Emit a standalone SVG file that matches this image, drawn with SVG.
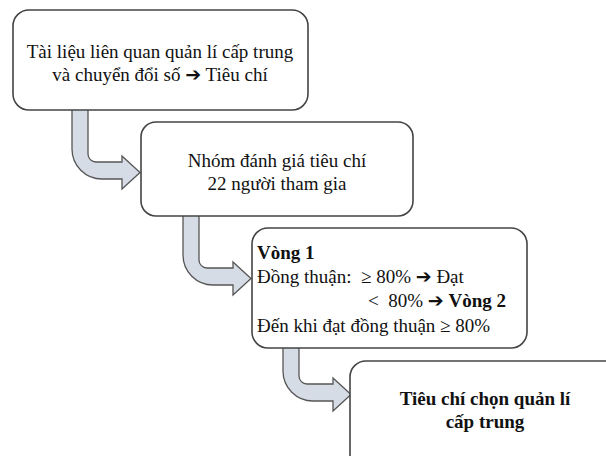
<svg xmlns="http://www.w3.org/2000/svg" width="606" height="456" viewBox="0 0 606 456">
<defs>
<style>
.box{fill:#fff;stroke:#444;stroke-width:1.6}
.arr{fill:#d6dce6;stroke:#555;stroke-width:1.3;stroke-linejoin:miter}
.t{font-family:'Liberation Serif','Times New Roman',serif;font-size:19px;fill:#111}
.c{text-anchor:middle}
.b{font-weight:bold}
.ar{font-family:'DejaVu Sans',sans-serif;font-size:19px;font-weight:bold}
</style>
<path id="bent" d="M0,0 V40 A30,30 0 0 0 30,70 H50 V80 L68,63.5 L50,47 V53 H24 A8,8 0 0 1 16,45 V0 Z"/>
<path id="bent2" d="M0,0 V24 A30,30 0 0 0 30,54 H50 V64 L68,47.5 L50,31 V37 H24 A8,8 0 0 1 16,29 V0 Z"/>
</defs>
<rect width="606" height="456" fill="#fff"/>
<g id="connectors">
<use href="#bent" class="arr" transform="translate(72,109)"/>
<use href="#bent" class="arr" transform="translate(183,215)"/>
<use href="#bent2" class="arr" transform="translate(283,347)"/>
</g>
<g id="node1" class="t">
<rect class="box" x="13" y="10" width="295" height="100" rx="16"/>
<text class="c" x="160" y="58">Tài liệu liên quan quản lí cấp trung</text>
<text class="c" x="160" y="81">và chuyển đổi số <tspan class="ar">➔</tspan> Tiêu chí</text>
</g>
<g id="node2" class="t">
<rect class="box" x="141" y="122" width="272" height="94" rx="15"/>
<text class="c" x="277" y="167">Nhóm đánh giá tiêu chí</text>
<text class="c" x="277" y="190">22 người tham gia</text>
</g>
<g id="node3" class="t">
<rect class="box" x="252" y="228" width="275" height="120" rx="16"/>
<text class="b" x="257" y="259">Vòng 1</text>
<text x="257" y="283" xml:space="preserve">Đồng thuận:  ≥ 80% <tspan class="ar">➔</tspan> Đạt</text>
<text x="368" y="307" xml:space="preserve">&lt;  80% <tspan class="ar">➔</tspan> <tspan class="b">Vòng 2</tspan></text>
<text x="257" y="332">Đến khi đạt đồng thuận ≥ 80%</text>
</g>
<g id="node4" class="t">
<rect class="box" x="350" y="361" width="280" height="110" rx="16"/>
<text class="c b" x="485" y="405">Tiêu chí chọn quản lí</text>
<text class="c b" x="485" y="428">cấp trung</text>
</g>
</svg>
